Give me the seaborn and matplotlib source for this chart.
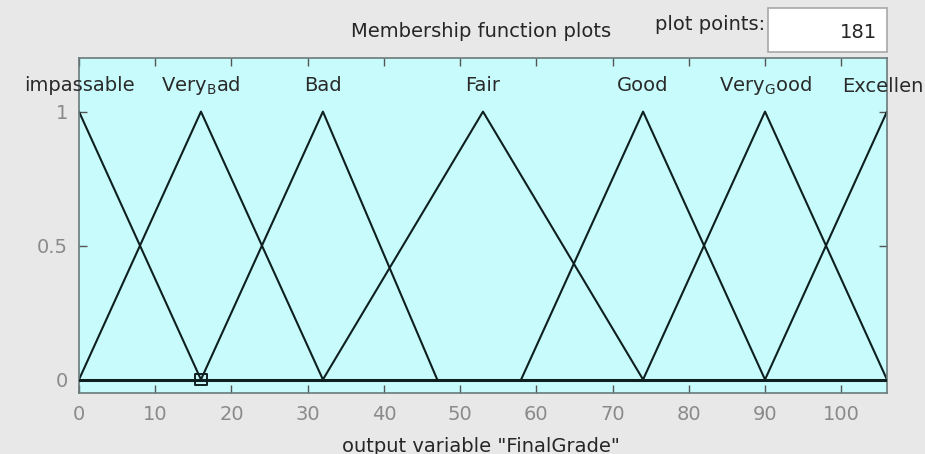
import matplotlib
matplotlib.use("Agg")
import matplotlib.pyplot as plt
from matplotlib.patches import Rectangle
import numpy as np
import pandas as pd
import seaborn as sns

# Triangular membership functions of the output variable "FinalGrade"
mf_names = ["impassable", r"Very$_\mathregular{B}$ad", "Bad", "Fair", "Good",
            r"Very$_\mathregular{G}$ood", "Excellen"]
mf_left = [-16, 0, 16, 32, 58, 74, 90]
mf_peak = [0, 16, 32, 53, 74, 90, 106]
mf_right = [16, 32, 47, 74, 90, 106, 122]

x_range = [0, 106]
x_ticks = [0, 10, 20, 30, 40, 50, 60, 70, 80, 90, 100]
y_ticks = [0, 0.5, 1]
y_tick_labels = ["0", "0.5", "1"]
selected_point = (16, 0)
plot_points = 181

rows = []
for name, a, b, c in zip(mf_names, mf_left, mf_peak, mf_right):
    for xv, mu in ((a, 0.0), (b, 1.0), (c, 0.0)):
        rows.append({"mf": name, "x": xv, "mu": mu})
df = pd.DataFrame(rows)

sns.set_style("ticks")
plt.rcParams["font.family"] = ["DejaVu Sans"]

fig = plt.figure(figsize=(9.25, 4.54), dpi=100)
fig.patch.set_facecolor("#e8e8e8")
ax = fig.add_axes([0.0854, 0.1344, 0.8735, 0.7378])
ax.set_facecolor("#c8fcfc")

line_col = "#0f1f1f"
sns.lineplot(data=df, x="x", y="mu", units="mf", estimator=None, sort=False,
             color=line_col, linewidth=1.5, ax=ax, legend=False)
ax.axhline(0, color=line_col, linewidth=2.2, zorder=3)
sns.scatterplot(x=[selected_point[0]], y=[selected_point[1]], marker="s",
                s=70, facecolor="none", edgecolor=line_col, linewidth=1.4,
                ax=ax, legend=False, zorder=4)

# Labels above each peak; the last one sits flush with the figure's right edge
for i, (name, b) in enumerate(zip(mf_names, mf_peak)):
    if i == len(mf_names) - 1:
        fig.text(0.998, 1 - 86 / 454, name, ha="right", va="center",
                 fontsize=14, color="#2a2a2a")
    else:
        ax.text(b, 1.097, name, ha="center", va="center", fontsize=14,
                color="#2a2a2a", clip_on=False)

ax.set_xlim(*x_range)
ax.set_ylim(-0.05, 1.2)
ax.set_xticks(x_ticks)
ax.set_yticks(y_ticks)
ax.set_yticklabels(y_tick_labels)
ax.set_xlabel("")
ax.set_ylabel("")
ax.tick_params(direction="in", length=6, width=1, color="#555555",
               top=True, right=True, labelsize=14, labelcolor="#8a8a8a")
ax.tick_params(axis="x", pad=9)
ax.tick_params(axis="y", pad=8)
for sp in ax.spines.values():
    sp.set_color("#6a7a7a")
    sp.set_linewidth(1.2)

fig.text(0.52, 0.9317, "Membership function plots", ha="center", va="center",
         fontsize=14, color="#262626")
fig.text(0.768, 0.947, "plot points:", ha="center", va="center",
         fontsize=14, color="#262626")
fig.patches.append(Rectangle((0.8303, 0.8855), 0.1286, 0.0969,
                             transform=fig.transFigure, facecolor="white",
                             edgecolor="#a8a8a8", linewidth=1.2))
fig.text(0.948, 0.9295, str(plot_points), ha="right", va="center",
         fontsize=14, color="#262626")
fig.text(0.52, 0.0176, 'output variable "FinalGrade"', ha="center",
         va="center", fontsize=14, color="#262626")

fig.savefig("out.png", dpi=100, facecolor=fig.get_facecolor())
